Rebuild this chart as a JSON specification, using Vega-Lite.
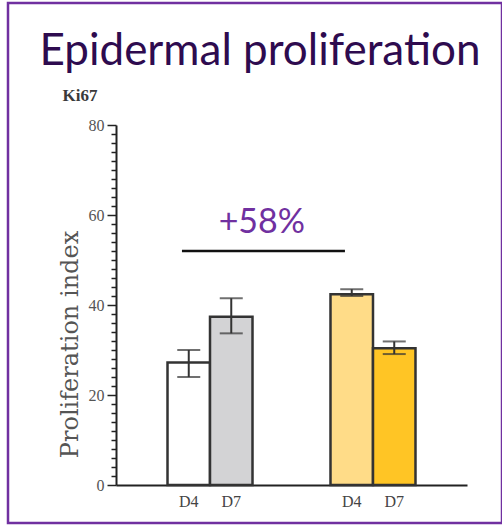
{
  "$schema": "https://vega.github.io/schema/vega-lite/v6.json",
  "autosize": "none",
  "padding": {"left": 8, "top": 3, "right": 0, "bottom": 2},
  "width": 494,
  "height": 520,
  "background": "white",
  "title": {
    "text": "Epidermal proliferation",
    "font": "Lato",
    "fontSize": 44,
    "fontWeight": "normal",
    "color": "#2e0b4f",
    "anchor": "middle",
    "dx": 5,
    "dy": 46,
    "offset": -60,
    "baseline": "alphabetic",
    "frame": "group"
  },
  "config": {"view": {"stroke": "#7030a0", "strokeWidth": 2.5}},
  "data": {
    "values": [
      {"group": "Group 1", "day": "D4", "sample": "G1 D4", "mean": 27.2, "lo": 24.0, "hi": 30.0},
      {"group": "Group 1", "day": "D7", "sample": "G1 D7", "mean": 37.4, "lo": 33.7, "hi": 41.5},
      {"group": "Group 2", "day": "D4", "sample": "G2 D4", "mean": 42.4, "lo": 42.0, "hi": 43.5},
      {"group": "Group 2", "day": "D7", "sample": "G2 D7", "mean": 30.4, "lo": 29.1, "hi": 31.9}
    ]
  },
  "resolve": {"axis": {"y": "independent"}},
  "layer": [
    {
      "mark": {"type": "bar", "stroke": "#333333", "strokeWidth": 2.5},
      "encoding": {
        "x": {
          "field": "group", "type": "nominal",
          "scale": {"range": [108, 459], "paddingInner": 0.4785, "paddingOuter": 0.316},
          "axis": {
            "title": "Ki67", "labels": false, "ticks": false, "offset": -38,
            "domainColor": "#222222", "domainWidth": 2,
            "titleX": 54, "titleY": -385, "titleAlign": "left", "titleBaseline": "alphabetic",
            "titleFont": "Liberation Serif", "titleFontSize": 17, "titleFontWeight": "bold", "titleColor": "#3a3a3a"
          }
        },
        "xOffset": {"field": "day", "type": "nominal", "scale": {"paddingInner": 0, "paddingOuter": 0}},
        "y": {
          "field": "mean", "type": "quantitative",
          "scale": {"domain": [0, 80], "range": [482, 122], "nice": false},
          "axis": {
            "orient": "left",
            "title": "Proliferation index", "offset": -108, "grid": false,
            "values": [0, 20, 40, 60, 80],
            "tickSize": 9,
            "tickColor": "#222222", "tickWidth": 1.5,
            "domainColor": "#222222", "domainWidth": 2,
            "labelFont": "Liberation Serif", "labelFontSize": 16, "labelColor": "#555555", "labelPadding": 3,
            "titleFont": "DejaVu Serif", "titleFontSize": 24, "titleFontWeight": "normal", "titleColor": "#555555",
            "titleAngle": -90, "titleX": -46, "titleY": 341, "titleAlign": "center", "titleBaseline": "middle"
          }
        },
        "color": {
          "field": "sample", "type": "nominal",
          "scale": {"domain": ["G1 D4", "G1 D7", "G2 D4", "G2 D7"], "range": ["#ffffff", "#d3d3d5", "#ffdc88", "#ffc525"]},
          "legend": null
        }
      }
    },
    {
      "mark": {"type": "rule", "color": "#333333", "strokeWidth": 2},
      "encoding": {
        "x": {"field": "group", "type": "nominal"},
        "xOffset": {"field": "day", "type": "nominal"},
        "y": {
          "field": "lo", "type": "quantitative",
          "axis": {
            "orient": "left",
            "title": null, "offset": -108, "grid": false, "labels": false, "domain": false,
            "values": [2,4,6,8,10,12,14,16,18,22,24,26,28,30,32,34,36,38,42,44,46,48,50,52,54,56,58,62,64,66,68,70,72,74,76,78],
            "tickSize": 5, "tickColor": "#222222", "tickWidth": 1.5
          }
        },
        "y2": {"field": "hi"}
      }
    },
    {
      "mark": {"type": "tick", "color": "#333333", "thickness": 2, "size": 23},
      "encoding": {
        "x": {"field": "group", "type": "nominal"},
        "xOffset": {"field": "day", "type": "nominal"},
        "y": {"field": "lo", "type": "quantitative", "axis": null}
      }
    },
    {
      "mark": {"type": "tick", "color": "#333333", "thickness": 2, "size": 23},
      "encoding": {
        "x": {"field": "group", "type": "nominal"},
        "xOffset": {"field": "day", "type": "nominal"},
        "y": {"field": "hi", "type": "quantitative", "axis": null}
      }
    },
    {
      "mark": {"type": "text", "baseline": "top", "dy": 9, "font": "Liberation Serif", "fontSize": 16, "color": "#444444"},
      "encoding": {
        "x": {"field": "group", "type": "nominal"},
        "xOffset": {"field": "day", "type": "nominal"},
        "y": {"datum": 0, "axis": null},
        "text": {"field": "day"}
      }
    },
    {
      "data": {"values": [{"from": "Group 1", "to": "Group 2", "level": 52, "label": "+58%"}]},
      "layer": [
        {
          "mark": {"type": "rule", "color": "#111111", "strokeWidth": 2.5},
          "encoding": {
            "x": {"field": "from", "type": "nominal", "bandPosition": 0.17},
            "x2": {"field": "to", "bandPosition": 0.17},
            "y": {"field": "level", "type": "quantitative", "axis": null}
          }
        },
        {
          "mark": {"type": "text", "baseline": "alphabetic", "dy": -18, "font": "Lato", "fontSize": 34, "color": "#7030a0"},
          "encoding": {
            "x": {"field": "from", "type": "nominal", "bandPosition": 1.11},
            "y": {"field": "level", "type": "quantitative", "axis": null},
            "text": {"field": "label"}
          }
        }
      ]
    }
  ]
}
